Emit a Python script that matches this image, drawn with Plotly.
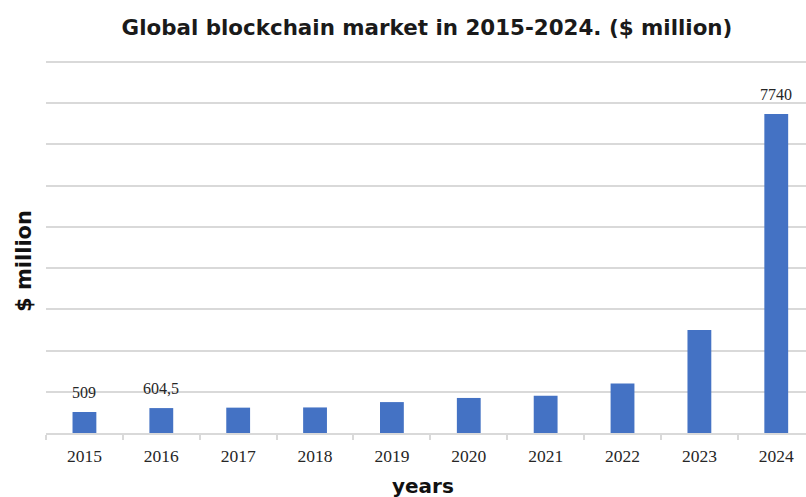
import plotly.graph_objects as go

# Global blockchain market, $ million
years = ["2015", "2016", "2017", "2018", "2019", "2020", "2021", "2022", "2023", "2024"]
market = [509, 604.5, 615, 620, 750, 850, 905, 1200, 2500, 7740]
labelled_years = ["2015", "2016", "2024"]

BAR_BLUE = "#4472C4"
GRID = "#d9d9d9"

W, H = 806, 497
M_L, M_R, M_T, M_B = 46, 0, 61, 64
PLOT_W = W - M_L - M_R
PLOT_H = H - M_T - M_B


def fmt(v):
    return f"{v:g}".replace(".", ",")


def px_to_paper(px, py):
    """Convert page pixel position to paper coordinates of the plot area."""
    return (px - M_L) / PLOT_W, (H - M_B - py) / PLOT_H


fig = go.Figure(
    go.Bar(
        x=years,
        y=market,
        marker=dict(color=BAR_BLUE, line=dict(width=0)),
        width=0.31,
        hoverinfo="x+y",
    )
)

# value labels above selected bars (positioned by category index)
for i, (yr, v) in enumerate(zip(years, market)):
    if yr in labelled_years:
        fig.add_annotation(
            x=i, y=v, xref="x", yref="y", text=fmt(v), showarrow=False,
            yanchor="bottom", yshift=9,
            font=dict(family="Liberation Serif", size=16, color="#262626"),
        )

# axis titles
xt, yt = px_to_paper(423, 486)
fig.add_annotation(
    x=xt, y=yt, xref="paper", yref="paper",
    xanchor="center", yanchor="middle", showarrow=False,
    text="<b>years</b>",
    font=dict(family="DejaVu Sans", size=20, color="#111111"),
)
xt, yt = px_to_paper(24, 261)
fig.add_annotation(
    x=xt, y=yt, xref="paper", yref="paper",
    xanchor="center", yanchor="middle",
    showarrow=False, text="<b>$ million</b>", textangle=-90,
    font=dict(family="DejaVu Sans", size=21, color="#111111"),
)

fig.update_layout(
    width=W,
    height=H,
    margin=dict(l=M_L, r=M_R, t=M_T, b=M_B),
    paper_bgcolor="white",
    plot_bgcolor="white",
    showlegend=False,
    title=dict(
        text="<b>Global blockchain market in 2015-2024. ($ million)</b>",
        x=427 / W, xanchor="center",
        y=1 - 28 / H, yanchor="middle",
        font=dict(family="DejaVu Sans", size=21.4, color="#1a1a1a"),
    ),
    xaxis=dict(
        type="category",
        range=[-0.5, 9.387],
        tickson="boundaries",
        ticks="outside",
        ticklen=5,
        tickcolor=GRID,
        tickwidth=1.5,
        showline=True,
        linecolor=GRID,
        linewidth=1.5,
        showgrid=False,
        ticklabelstandoff=6,
        tickfont=dict(family="Liberation Serif", size=17.5, color="#262626"),
    ),
    yaxis=dict(
        range=[0, 9025],
        tick0=0,
        dtick=1000,
        showticklabels=False,
        showgrid=True,
        gridcolor=GRID,
        gridwidth=1.5,
        zeroline=False,
        ticks="",
    ),
)

fig.write_html("out.html")
